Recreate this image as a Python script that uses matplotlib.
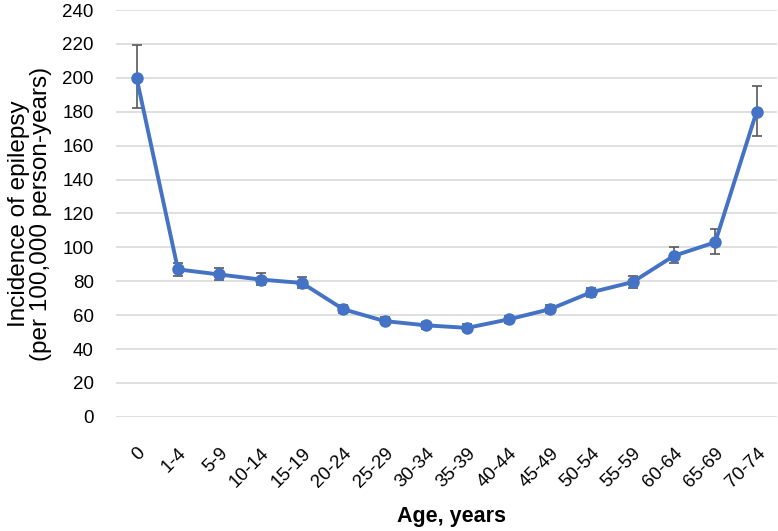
import matplotlib.pyplot as plt

plt.rcParams['font.family'] = ['Liberation Sans', 'DejaVu Sans']

ages = ['0', '1-4', '5-9', '10-14', '15-19', '20-24', '25-29', '30-34',
        '35-39', '40-44', '45-49', '50-54', '55-59', '60-64', '65-69', '70-74']
incidence = [200, 87, 84, 81, 79, 63.5, 56.5, 54, 52.5, 57.5, 63.5, 73.5, 79.5, 95, 103, 180]
lower = [182.5, 83, 81, 78, 76, 61, 54.5, 52, 50.5, 55.5, 61.5, 71, 76, 90.5, 96, 165.5]
upper = [219.5, 91, 88, 85, 82.5, 66, 59, 56, 54.5, 59.5, 66, 76, 83, 100, 111, 195]

err_lo = [v - l for v, l in zip(incidence, lower)]
err_hi = [u - v for v, u in zip(incidence, upper)]

fig = plt.figure(figsize=(7.78, 5.31), dpi=100)
ax = fig.add_axes([0.149, 0.215, 0.85, 0.766])

x = list(range(len(ages)))
ax.errorbar(x, incidence, yerr=[err_lo, err_hi], fmt='none', ecolor='#595959',
            elinewidth=1.2, capsize=3.5, capthick=1.2, zorder=2)
ax.plot(x, incidence, color='#4472C4', linewidth=2.8, marker='o',
        markersize=8, zorder=3)

ax.set_xlim(-0.5, len(ages) - 0.5)
ax.set_ylim(0, 240)
ax.set_yticks(range(0, 241, 20))
ax.set_xticks(x)
ax.set_xticklabels(ages, rotation=45, ha='right', rotation_mode='anchor', fontsize=13.5)
ax.tick_params(axis='y', labelsize=13.5, length=0, pad=16)
ax.tick_params(axis='x', length=0, pad=20)
ax.grid(axis='y', color='#d9d9d9', linewidth=1.2)
ax.set_axisbelow(True)
for s in ax.spines.values():
    s.set_visible(False)

ax.set_ylabel('Incidence of epilepsy\n(per 100,000 person-years)', fontsize=17.5,
              linespacing=1.05, labelpad=7)
ax.set_xlabel('Age, years', fontsize=15.5, fontweight='bold')
ax.xaxis.set_label_coords(0.508, -0.22)

fig.savefig('out.png', dpi=100)
